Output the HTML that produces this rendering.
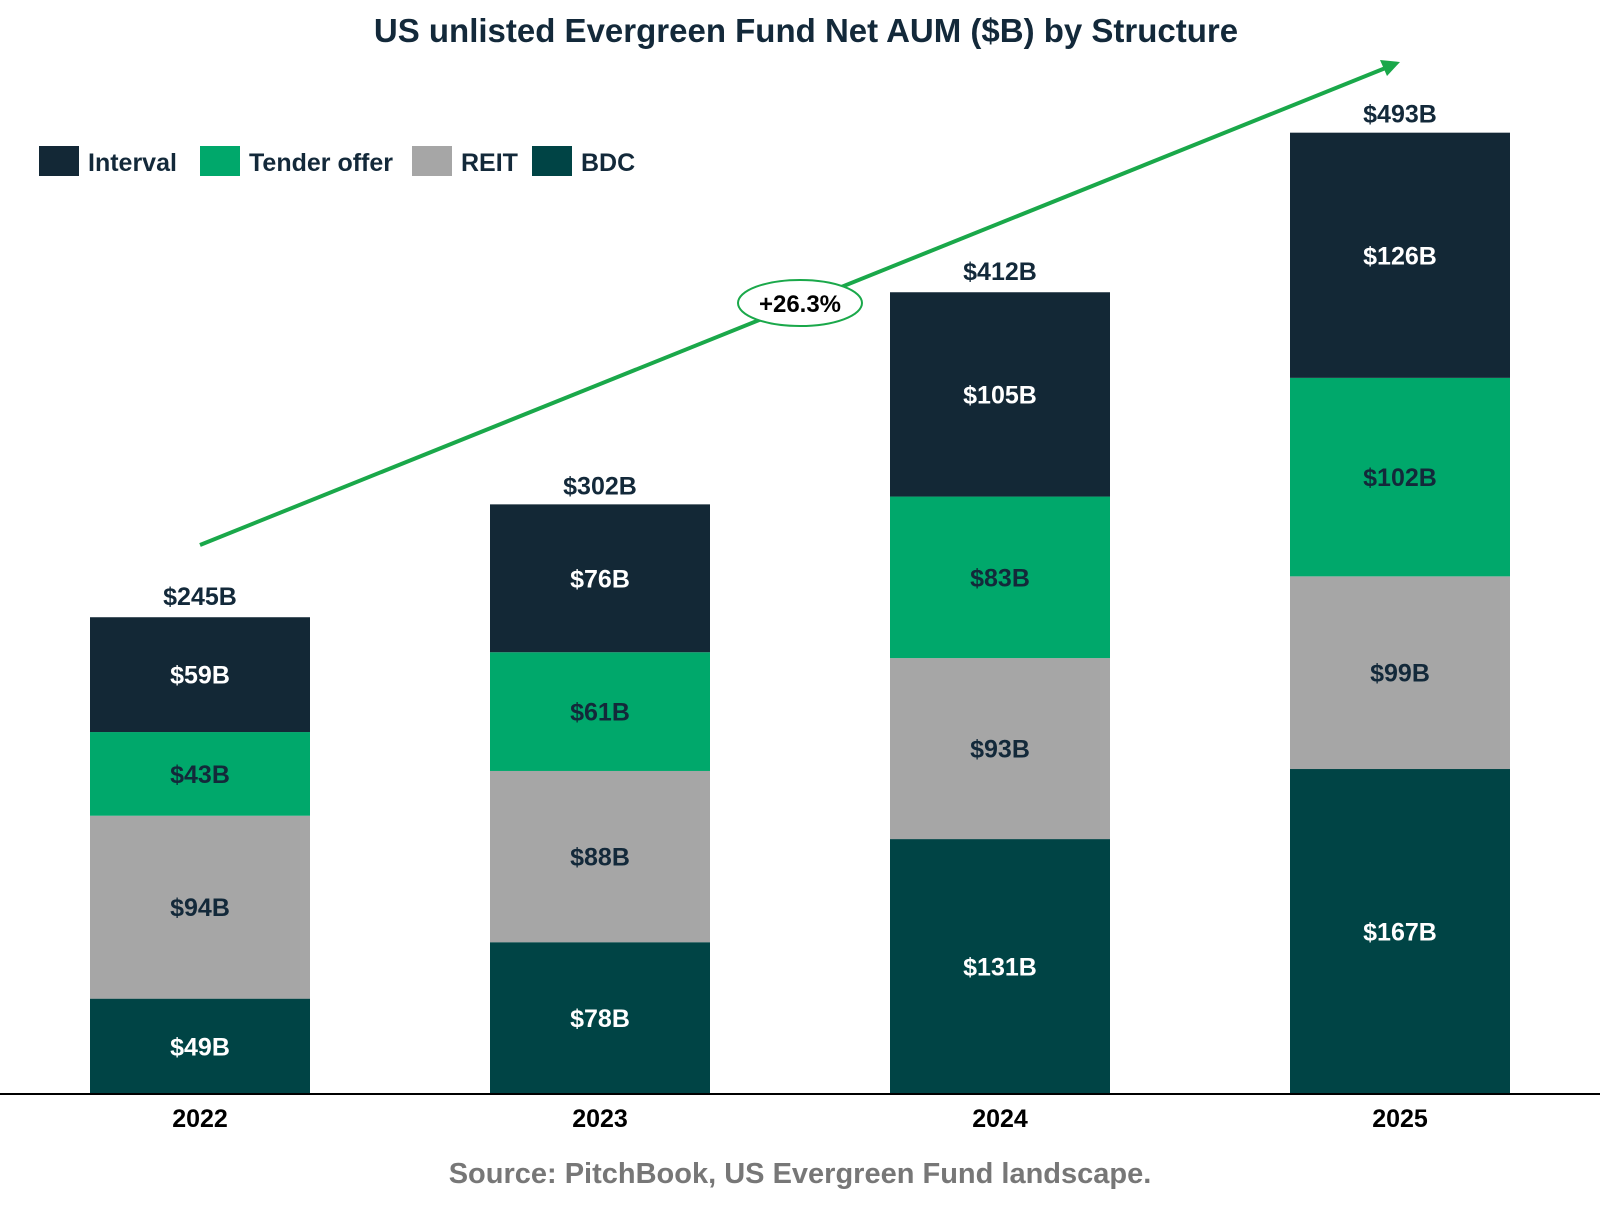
<!DOCTYPE html>
<html><head><meta charset="utf-8"><style>
body{margin:0;background:#fff;}
svg text{font-family:"Liberation Sans",Arial,sans-serif;font-weight:bold;}
</style></head><body>
<svg width="1600" height="1200" viewBox="0 0 1600 1200">
<text x="806" y="42" text-anchor="middle" font-size="33" fill="#13293a">US unlisted Evergreen Fund Net AUM ($B) by Structure</text>
<g id="legend"></g>
<g id="bars"></g>
<line x1="0" y1="1094" x2="1600" y2="1094" stroke="#000" stroke-width="2"/>
<g>
<line x1="200" y1="545" x2="1388" y2="67" stroke="#1aa84a" stroke-width="4"/>
<polygon points="1400,62 1380,60 1387,76" fill="#1aa84a"/>
<ellipse cx="800" cy="303" rx="62" ry="23" fill="#fff" stroke="#1aa84a" stroke-width="2"/>
<text x="800" y="312" text-anchor="middle" font-size="24" fill="#000">+26.3%</text>
</g>
<text x="800" y="1183" text-anchor="middle" font-size="29" fill="#777">Source: PitchBook, US Evergreen Fund landscape.</text>
</svg>
<script>
const years=["2022","2023","2024","2025"];
const bdc=[49,78,131,167];
const reit=[94,88,93,99];
const tender=[43,61,83,102];
const interval=[59,76,105,126];
const totals=[245,302,412,493];
const seriesNames=["BDC","REIT","Tender offer","Interval"];
const NS="http://www.w3.org/2000/svg";
const base=1094, k=1.946, bw=220;
const colors=["#004445","#a6a6a6","#00a86b","#132836"];
const tcols=["#fff","#13293a","#13293a","#fff"];
const series=[bdc,reit,tender,interval];
function xL(i){return 90+i*400;}
function y(v){return base-v*k;}
function mk(tag,attrs,parent){const e=document.createElementNS(NS,tag);for(const a in attrs)e.setAttribute(a,attrs[a]);parent.appendChild(e);return e;}
const g=document.getElementById('bars');
years.forEach((yr,i)=>{
  let cum=0;
  series.forEach((s,j)=>{
    const v=s[i];
    const r=mk('rect',{x:xL(i),y:y(cum+v),width:bw,height:v*k,fill:colors[j]},g);
    
    
    const t=mk('text',{x:xL(i)+bw/2,y:y(cum+v/2)+9,'text-anchor':'middle','font-size':25,fill:tcols[j]},g);
    t.textContent='$'+v+'B';
    
    
    cum+=v;
  });
  const tt=mk('text',{x:xL(i)+bw/2,y:y(totals[i])-12,'text-anchor':'middle','font-size':25,fill:'#13293a'},g);
  tt.textContent='$'+totals[i]+'B';
  
  
  const yl=mk('text',{x:xL(i)+bw/2,y:1127,'text-anchor':'middle','font-size':25,fill:'#000'},g);
  yl.textContent=yr;
  
  
});
const lg=document.getElementById('legend');
const legOrder=[3,2,1,0];const legX=[39,200,412,532];
legOrder.forEach((j,n)=>{
  const r=mk('rect',{x:legX[n],y:146,width:40,height:30,fill:colors[j]},lg);
  
  
  const t=mk('text',{x:legX[n]+49,y:171,'font-size':25,fill:'#13293a'},lg);
  t.textContent=seriesNames[j];
  
  
});
</script>
</body></html>
